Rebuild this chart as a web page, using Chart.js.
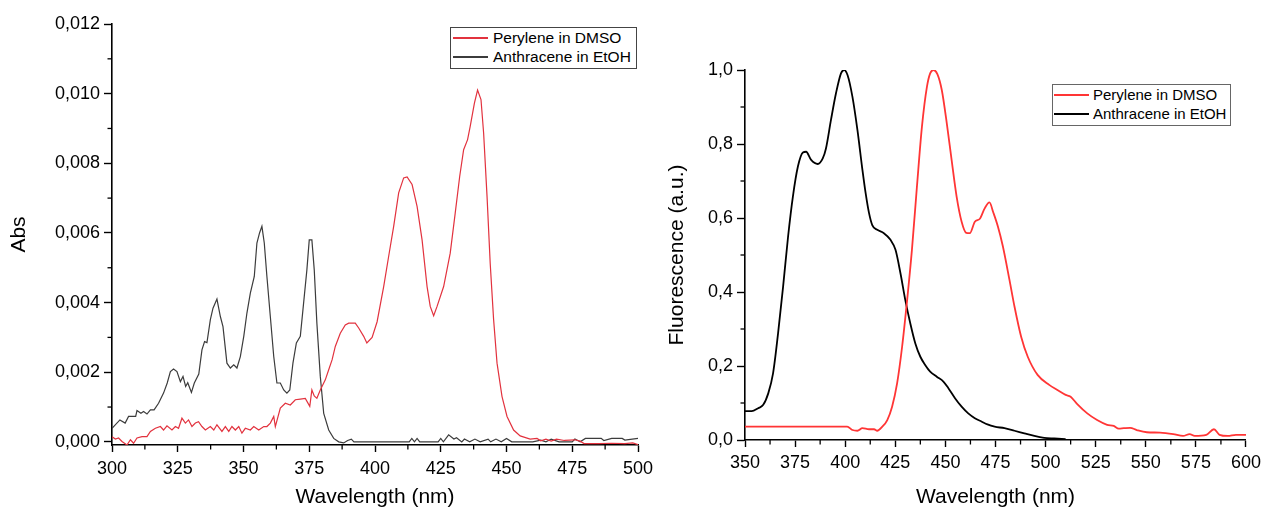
<!DOCTYPE html>
<html>
<head>
<meta charset="utf-8">
<script src="https://cdn.jsdelivr.net/npm/chart.js@4.4.1/dist/chart.umd.min.js"></script>
<style>
  body { margin: 0; background: #fff; }
  #wrap { position: relative; width: 1266px; height: 511px; overflow: hidden; }
  canvas { position: absolute; top: 0; }
  #absChart { left: 0; }
  #fluoChart { left: 640px; }
  .legend { position: absolute; border: 1px solid #444; background: #fff; box-sizing: border-box;
            font-family: "Liberation Sans", Arial, sans-serif; color: #000; }
  .legend .ln { position: absolute; }
  .legend .tx { position: absolute; white-space: nowrap; line-height: 18px; }
</style>
</head>
<body>
<div id="wrap">
  <canvas id="absChart" width="660" height="511"></canvas>
  <canvas id="fluoChart" width="626" height="511"></canvas>
  <div id="absLegend" class="legend" style="left:450px;top:27px;width:187px;height:42px;font-size:15.5px;"></div>
  <div id="fluoLegend" class="legend" style="left:1052px;top:84px;width:179px;height:42px;font-size:15px;border-color:#666;"></div>
</div>
<script>
// absorbance panel (left)
const perAbsWl = [300, 301.3, 302.5, 303.8, 305.7, 307, 308.2, 309.5, 311.4, 313.3, 314.6, 316.5, 318.4, 319.6, 320.9,
  322.8, 324.1, 325.3, 326.6, 327.9, 329.1, 330.4, 331.7, 332.9, 334.2, 335.5, 337.4, 338.7, 339.9, 341.8, 343.1,
  344.4, 345.6, 346.9, 348.2, 349.4, 350.7, 352.6, 353.9, 355.8, 357.7, 358.9, 360.2, 361.5, 362.1, 364, 365.9,
  367.8, 369.7, 371.6, 373.5, 375.2, 376, 376.9, 377.9, 379.2, 381.1, 382.4, 383.7, 384.9, 386.8, 388.7, 390,
  392.5, 393.8, 395.7, 396.9, 398.9, 400.8, 403.3, 405.2, 407.1, 409, 410.9, 412.2, 414.1, 416, 417.9, 419.8, 421,
  422.3, 423.6, 426.1, 428.6, 430.5, 432.2, 433.7, 435.2, 436.2, 437.8, 439, 440.3, 441.3, 442.6, 443.8, 445.1,
  446.4, 448.3, 450.2, 452.7, 455.2, 459, 461.6, 463, 465, 467, 469, 472, 476, 478, 479.5, 485, 490, 495, 498, 500];
const perAbs = [0.00015, 0.00008, 0.00011, 0.00001, -0.00009, 0.00006, -0.00004, 0.00011, 0.00015, 0.00015, 0.00030,
  0.00039, 0.00044, 0.00034, 0.00046, 0.00034, 0.00044, 0.00039, 0.00068, 0.00054, 0.00063, 0.00044, 0.00054,
  0.00058, 0.00044, 0.00034, 0.00044, 0.00034, 0.00049, 0.00030, 0.00044, 0.00030, 0.00044, 0.00034, 0.00044,
  0.00025, 0.00039, 0.00034, 0.00044, 0.00034, 0.00044, 0.00044, 0.00054, 0.00073, 0.00044, 0.00097, 0.00111,
  0.00106, 0.00121, 0.00123, 0.00125, 0.00102, 0.00149, 0.00132, 0.00125, 0.00149, 0.00178, 0.00207, 0.00236,
  0.00274, 0.00312, 0.00336, 0.00341, 0.00341, 0.00327, 0.00303, 0.00284, 0.00300, 0.00345, 0.00446, 0.00533,
  0.00619, 0.00715, 0.00758, 0.00761, 0.00739, 0.00676, 0.00580, 0.00446, 0.00389, 0.00362, 0.00389, 0.00446,
  0.00542, 0.00657, 0.00762, 0.00839, 0.00868, 0.00906, 0.00973, 0.01010, 0.00983, 0.00887, 0.00705, 0.00513,
  0.00351, 0.00226, 0.00130, 0.00073, 0.00034, 0.00017, 0.00008, 0.00010, 0.00003, 0.00008, 0.00002, 0.00008,
  0.00004, 0.00006, 0.00002, -0.00005, -0.00005, -0.00004, -0.00005, -0.00003, -0.00008];

const anthAbsWl = [300, 303, 305, 306.3, 309, 309.5, 311, 312, 313.3, 314.6, 316, 317.7, 319.6, 321, 322.2, 323.4,
  324.7, 326, 327, 328, 328.8, 330.2, 331.3, 333, 334.2, 335.2, 336.1, 337.4, 338.4, 339.9, 341.2, 342.2, 343.7,
  345, 346.3, 347.5, 348.8, 350.1, 351.3, 352.6, 354.1, 355.1, 356.1, 357, 357.9, 358.9, 360.2, 361.5, 362.7, 364,
  365.3, 366.5, 367.6, 368.8, 370.1, 371.6, 372.6, 374.1, 375, 376, 376.9, 377.9, 379.2, 380.5, 382.4, 384.3,
  386.2, 388.1, 389.6, 391, 392, 400, 413, 414, 415, 416, 417, 424, 425, 426, 428, 430, 431, 433, 434, 436, 438,
  440, 443, 444, 446, 448, 450, 452, 460, 463, 465, 467, 470, 475, 476, 478, 480, 486, 487, 490, 494, 495, 500];
const anthAbs = [0.00039, 0.00063, 0.00054, 0.00073, 0.00073, 0.00090, 0.00082, 0.00087, 0.00080, 0.00092, 0.00092,
  0.00111, 0.00140, 0.00169, 0.00202, 0.00209, 0.00202, 0.00173, 0.00188, 0.00159, 0.00170, 0.00142, 0.00169,
  0.00195, 0.00264, 0.00288, 0.00285, 0.00351, 0.00384, 0.00410, 0.00360, 0.00331, 0.00226, 0.00212, 0.00221,
  0.00212, 0.00245, 0.00303, 0.00370, 0.00427, 0.00475, 0.00571, 0.00600, 0.00619, 0.00571, 0.00475, 0.00360,
  0.00245, 0.00169, 0.00169, 0.00149, 0.00140, 0.00149, 0.00226, 0.00284, 0.00303, 0.00379, 0.00494, 0.00580,
  0.00580, 0.00494, 0.00341, 0.00188, 0.00082, 0.00034, 0.00010, 0, -0.00003, 0.00004, 0.00008, 0, 0, 0, 0.00010,
  0, 0.00010, 0, 0, 0.00010, 0, 0.00020, 0.00008, 0.00012, 0, 0.00008, 0, 0.00008, 0, 0.00008, 0, 0.00008, 0,
  0.00010, 0, 0, 0.00005, 0, 0.00008, 0, 0, 0.00008, 0, 0.00010, 0.00010, 0.00004, 0.00010, 0.00010, 0.00005, 0.00010];

const absXTicks = [300, 325, 350, 375, 400, 425, 450, 475, 500];
const absXLabels = ["300", "325", "350", "375", "400", "425", "450", "475", "500"];
const absYTicks = [0, 0.002, 0.004, 0.006, 0.008, 0.010, 0.012];
const absYLabels = ["0,000", "0,002", "0,004", "0,006", "0,008", "0,010", "0,012"];

// fluorescence panel (right)
const perFluoWl = [350, 401, 403.6, 406.1, 408.6, 411.9, 414.4, 416, 418.5, 421, 423.4, 425.9, 428.4, 430.9, 433.3,
  435.8, 438.3, 440.8, 442.4, 444.1, 446, 448.2, 450.7, 453.1, 455.6, 458.1, 460.4, 462.2, 464.7, 467.2, 469.6, 472,
  473.9, 476.2, 478.7, 482, 484.5, 487.8, 491.1, 496, 501.8, 505.9, 510, 512.5, 515.8, 520.8, 525.7, 530.7, 534,
  536.5, 539, 542.2, 545.5, 550.5, 557.1, 563.7, 568.6, 571.9, 574.4, 580.2, 584, 586.8, 590.9, 595, 600];
const perFluo = [0.036, 0.036, 0.027, 0.025, 0.032, 0.029, 0.029, 0.025, 0.036, 0.054, 0.09, 0.153, 0.252, 0.378,
  0.514, 0.685, 0.847, 0.955, 0.991, 1.0, 0.989, 0.946, 0.856, 0.757, 0.658, 0.59, 0.56, 0.559, 0.59, 0.598, 0.626,
  0.642, 0.615, 0.577, 0.523, 0.432, 0.36, 0.279, 0.225, 0.176, 0.149, 0.135, 0.122, 0.117, 0.097, 0.072, 0.054,
  0.041, 0.038, 0.031, 0.032, 0.033, 0.027, 0.021, 0.02, 0.016, 0.011, 0.016, 0.011, 0.014, 0.029, 0.014, 0.011,
  0.014, 0.014];

const anthFluoWl = [350, 353.3, 356.6, 359.1, 361.6, 364, 366.5, 369, 371.5, 373.9, 376.4, 378.9, 380.5, 383, 386.3,
  388.8, 390.4, 392.9, 395.4, 397.9, 399.5, 401.2, 403.6, 406.1, 408.6, 410.2, 411.9, 413.5, 416, 419.3, 422.6,
  425.1, 427.6, 430, 432.5, 435, 437.5, 439.9, 442.4, 445.7, 449, 451.5, 454.8, 458.1, 461.4, 464.7, 468, 471,
  474.6, 479.5, 484.5, 489.4, 494.4, 499.3, 504.3, 510];
const anthFluo = [0.078, 0.078, 0.086, 0.095, 0.126, 0.18, 0.288, 0.414, 0.55, 0.658, 0.739, 0.777, 0.779, 0.757,
  0.746, 0.761, 0.788, 0.865, 0.937, 0.991, 1.0, 0.986, 0.928, 0.838, 0.73, 0.667, 0.613, 0.581, 0.568, 0.559,
  0.541, 0.514, 0.45, 0.378, 0.315, 0.261, 0.225, 0.203, 0.185, 0.171, 0.158, 0.14, 0.113, 0.09, 0.072, 0.059,
  0.05, 0.042, 0.036, 0.032, 0.025, 0.018, 0.011, 0.006, 0.004, 0.002];

const fluoXTicks = [350, 375, 400, 425, 450, 475, 500, 525, 550, 575, 600];
const fluoXLabels = ["350", "375", "400", "425", "450", "475", "500", "525", "550", "575", "600"];
const fluoYTicks = [0, 0.2, 0.4, 0.6, 0.8, 1.0];
const fluoYLabels = ["0,0", "0,2", "0,4", "0,6", "0,8", "1,0"];

Chart.defaults.font.family = '"Liberation Sans", Arial, sans-serif';
Chart.defaults.color = "#000";

const pts = (xs, ys) => xs.map((x, i) => ({ x: x, y: ys[i] }));

// Origin style short ticks halfway between the major ones
const minorTicks = {
  id: "minorTicks",
  afterDraw(chart) {
    const { ctx, chartArea } = chart;
    ctx.save();
    ctx.strokeStyle = "#000";
    ctx.lineWidth = 1.3;
    ["x", "y"].forEach((id) => {
      const s = chart.scales[id];
      for (let i = 0; i < s.ticks.length - 1; i++) {
        const p = s.getPixelForValue((s.ticks[i].value + s.ticks[i + 1].value) / 2);
        ctx.beginPath();
        if (id === "x") {
          ctx.moveTo(p, chartArea.bottom);
          ctx.lineTo(p, chartArea.bottom + 4.5);
        } else {
          ctx.moveTo(chartArea.left, p);
          ctx.lineTo(chartArea.left - 4.5, p);
        }
        ctx.stroke();
      }
    });
    ctx.restore();
  },
};

function axes(o) {
  return {
    x: {
      type: "linear",
      min: o.xMin,
      max: o.xMax,
      afterBuildTicks: (s) => { s.ticks = o.xTicks.map((v) => ({ value: v })); },
      afterFit: (s) => { s.height = o.xHeight; },
      grid: { drawOnChartArea: false, tickLength: 7, tickColor: "#000", tickWidth: 1.4 },
      border: { color: "#000", width: 1.6 },
      ticks: {
        autoSkip: false, maxRotation: 0, padding: o.xPad,
        font: { size: 18 },
        callback: (v, i) => o.xLabels[i],
      },
      title: { display: true, text: "Wavelength (nm)", font: { size: 21 }, padding: { top: 0, bottom: 1 } },
    },
    y: {
      type: "linear",
      min: o.yMin,
      max: o.yMax,
      afterBuildTicks: (s) => { s.ticks = o.yTicks.map((v) => ({ value: v })); },
      afterFit: (s) => { s.width = o.yWidth; },
      grid: { drawOnChartArea: false, tickLength: 8, tickColor: "#000", tickWidth: 1.4 },
      border: { color: "#000", width: 1.6 },
      ticks: { autoSkip: false, padding: 4, font: { size: 18 }, callback: (v, i) => o.yLabels[i] },
      title: { display: true, text: o.yTitle, font: { size: 21 }, padding: { top: o.yTitlePad, bottom: 0 } },
    },
  };
}

var absChart = new Chart(document.getElementById("absChart"), {
  type: "line",
  data: {
    datasets: [
      { label: "Perylene in DMSO", data: pts(perAbsWl, perAbs), borderColor: "#e2323e", borderWidth: 1.2 },
      { label: "Anthracene in EtOH", data: pts(anthAbsWl, anthAbs), borderColor: "#3c3c3c", borderWidth: 1.2 },
    ],
  },
  options: {
    responsive: false,
    animation: false,
    elements: { point: { radius: 0 }, line: { tension: 0 } },
    layout: { padding: { top: 24, right: 22, left: 0, bottom: 0 } },
    scales: axes({
      xMin: 300, xMax: 500, xTicks: absXTicks, xLabels: absXLabels, xHeight: 66, xPad: 6,
      yMin: -0.00009, yMax: 0.012, yTicks: absYTicks, yLabels: absYLabels, yWidth: 112,
      yTitle: "Abs", yTitlePad: 7,
    }),
    plugins: { legend: { display: false }, tooltip: { enabled: false } },
  },
  plugins: [minorTicks],
});

var fluoChart = new Chart(document.getElementById("fluoChart"), {
  type: "line",
  data: {
    datasets: [
      { label: "Perylene in DMSO", data: pts(perFluoWl, perFluo), borderColor: "#ff3535", borderWidth: 1.8 },
      { label: "Anthracene in EtOH", data: pts(anthFluoWl, anthFluo), borderColor: "#000000", borderWidth: 1.8 },
    ],
  },
  options: {
    responsive: false,
    animation: false,
    elements: { point: { radius: 0 }, line: { cubicInterpolationMode: "monotone" } },
    layout: { padding: { top: 70, right: 16, left: 0, bottom: 0 } },
    scales: axes({
      xMin: 350, xMax: 600, xTicks: fluoXTicks, xLabels: fluoXLabels, xHeight: 71, xPad: 5,
      yMin: 0, yMax: 1.0, yTicks: fluoYTicks, yLabels: fluoYLabels, yWidth: 105,
      yTitle: "Fluorescence (a.u.)", yTitlePad: 25,
    }),
    plugins: { legend: { display: false }, tooltip: { enabled: false } },
  },
  plugins: [minorTicks],
});

// boxed legends placed like the Origin ones
function buildLegend(chart, id, lineLeft, textLeft) {
  const box = document.getElementById(id);
  chart.data.datasets.forEach((ds, i) => {
    const ln = document.createElement("div");
    ln.className = "ln";
    ln.style.left = lineLeft + "px";
    ln.style.top = 9 + i * 19 + "px";
    ln.style.width = "35px";
    ln.style.height = "2px";
    ln.style.background = ds.borderColor;
    box.appendChild(ln);
    const tx = document.createElement("div");
    tx.className = "tx";
    tx.style.left = textLeft + "px";
    tx.style.top = 1 + i * 19 + "px";
    tx.textContent = ds.label;
    box.appendChild(tx);
  });
}
buildLegend(absChart, "absLegend", 2, 42);
buildLegend(fluoChart, "fluoLegend", 1, 40);
</script>
</body>
</html>
